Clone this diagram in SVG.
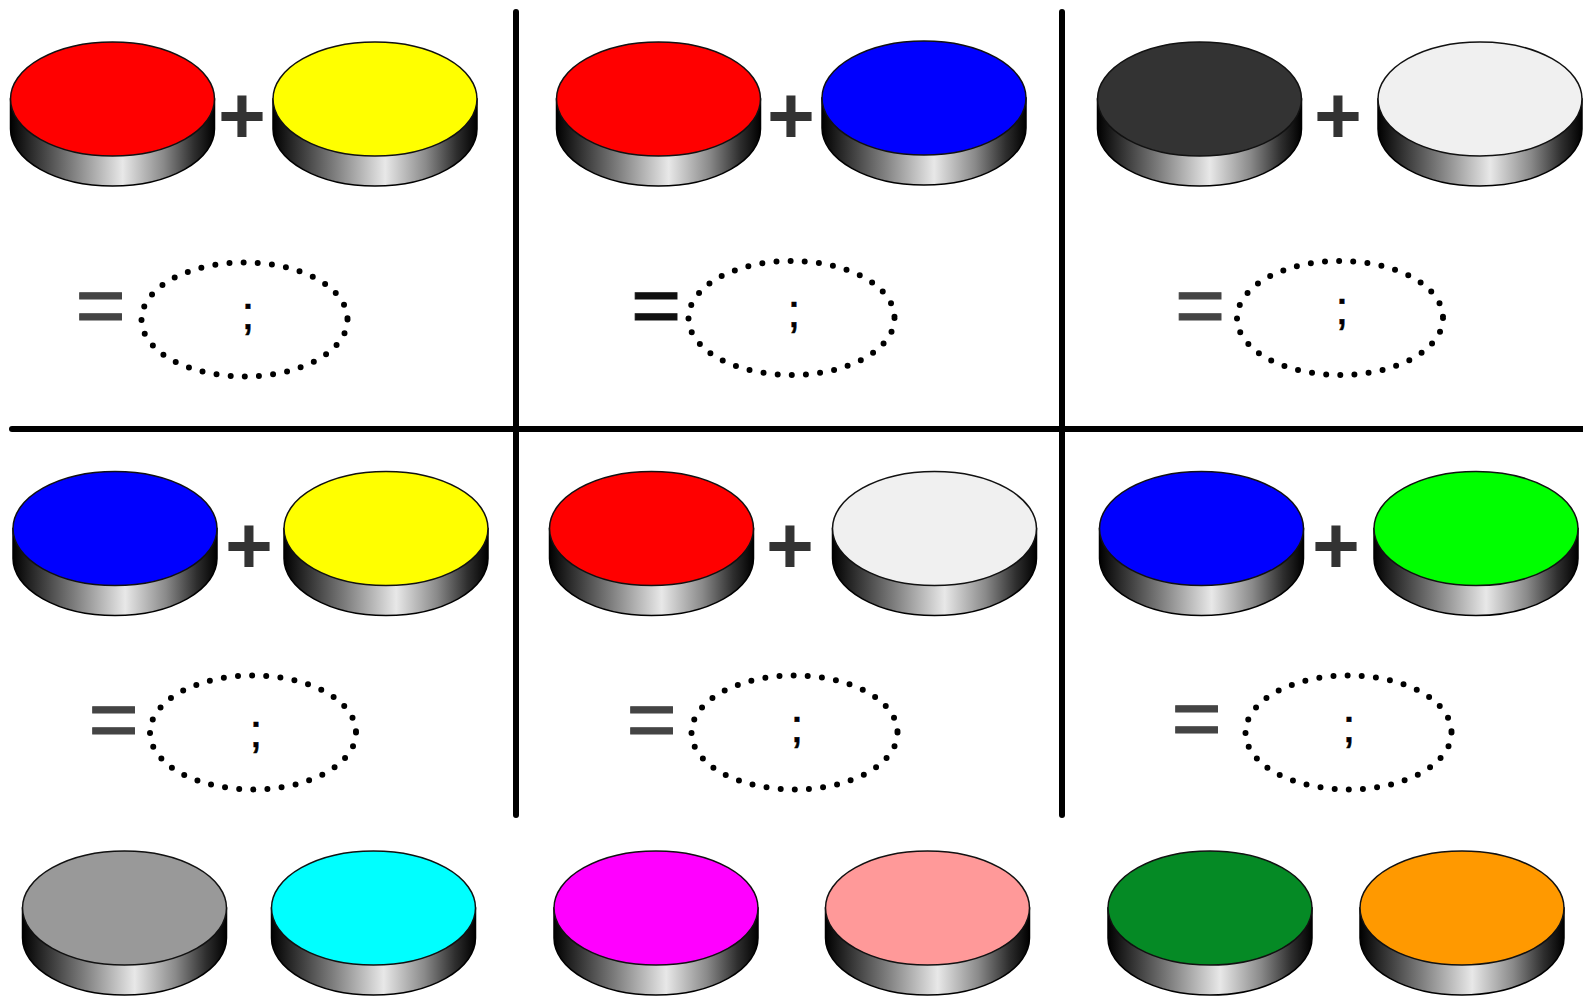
<svg xmlns="http://www.w3.org/2000/svg" xmlns:xlink="http://www.w3.org/1999/xlink" width="1583" height="997" viewBox="0 0 1583 997">
<defs>
<linearGradient id="sideGrad" x1="0" y1="0" x2="1" y2="0">
<stop offset="0" stop-color="#000"/>
<stop offset="0.1" stop-color="#2a2a2a"/>
<stop offset="0.3" stop-color="#7d7d7d"/>
<stop offset="0.55" stop-color="#e8e8e8"/>
<stop offset="0.75" stop-color="#8a8a8a"/>
<stop offset="0.9" stop-color="#2e2e2e"/>
<stop offset="1" stop-color="#000"/>
</linearGradient>
<path id="side" d="M-102,0 V30 A102,57 0 0 0 102,30 V0 Z" fill="url(#sideGrad)" stroke="#000" stroke-width="1.5"/>
</defs>
<style>
.top{stroke:#111;stroke-width:1.5}
.plus{font-family:"Liberation Sans",Arial,sans-serif;font-weight:bold;font-size:82px;fill:#333;text-anchor:middle}
.eq{font-family:"Liberation Sans",Arial,sans-serif;font-size:86px;fill:#444;stroke:#444;stroke-width:1;text-anchor:middle}
.semi{font-family:"Liberation Sans",Arial,sans-serif;font-size:46px;fill:#000;stroke:#000;stroke-width:0.6;text-anchor:middle}
.dots{fill:none;stroke:#000;stroke-width:6;stroke-linecap:round;stroke-dasharray:0 14.2}
.grid{stroke:#000;stroke-width:6;stroke-linecap:round;fill:none}
</style>
<rect width="1583" height="997" fill="#fff"/>
<g id="connectors">
<line class="grid" x1="516" y1="12" x2="516" y2="815"/>
<line class="grid" x1="1062" y1="12" x2="1062" y2="815"/>
<line class="grid" x1="12" y1="429" x2="1590" y2="429"/>
</g>
<!-- Panel 1 -->
<g id="p1-red" transform="translate(112.5,99)"><use xlink:href="#side"/><ellipse class="top" rx="102" ry="57" fill="#ff0000"/></g>
<g id="p1-yellow" transform="translate(375,99)"><use xlink:href="#side"/><ellipse class="top" rx="102" ry="57" fill="#ffff00"/></g>
<g id="p1-plus"><text class="plus" x="242" y="143">+</text></g>
<g id="p1-eq"><text class="eq" x="100.5" y="334">=</text></g>
<g id="p1-result"><ellipse class="dots" cx="244.5" cy="319.5" rx="103" ry="57"/><text class="semi" x="248" y="329">;</text></g>
<!-- Panel 2 -->
<g id="p2-red" transform="translate(658.5,99)"><use xlink:href="#side"/><ellipse class="top" rx="102" ry="57" fill="#ff0000"/></g>
<g id="p2-blue" transform="translate(924,98)"><use xlink:href="#side"/><ellipse class="top" rx="102" ry="57" fill="#0000ff"/></g>
<g id="p2-plus"><text class="plus" x="791" y="143">+</text></g>
<g id="p2-eq"><text class="eq" x="656" y="334" style="fill:#111;stroke:#111">=</text></g>
<g id="p2-result"><ellipse class="dots" cx="791.5" cy="318" rx="103" ry="57"/><text class="semi" x="794" y="327">;</text></g>
<!-- Panel 3 -->
<g id="p3-black" transform="translate(1199.5,99)"><use xlink:href="#side"/><ellipse class="top" rx="102" ry="57" fill="#333333"/></g>
<g id="p3-white" transform="translate(1480,99)"><use xlink:href="#side"/><ellipse class="top" rx="102" ry="57" fill="#f0f0f0"/></g>
<g id="p3-plus"><text class="plus" x="1338" y="143">+</text></g>
<g id="p3-eq"><text class="eq" x="1200" y="334">=</text></g>
<g id="p3-result"><ellipse class="dots" cx="1340" cy="318" rx="103" ry="57"/><text class="semi" x="1342" y="324">;</text></g>
<!-- Panel 4 -->
<g id="p4-blue" transform="translate(115,528.5)"><use xlink:href="#side"/><ellipse class="top" rx="102" ry="57" fill="#0000ff"/></g>
<g id="p4-yellow" transform="translate(386,528.5)"><use xlink:href="#side"/><ellipse class="top" rx="102" ry="57" fill="#ffff00"/></g>
<g id="p4-plus"><text class="plus" x="249" y="573">+</text></g>
<g id="p4-eq"><text class="eq" x="113.5" y="748">=</text></g>
<g id="p4-result"><ellipse class="dots" cx="253" cy="732.5" rx="103" ry="57"/><text class="semi" x="256" y="747">;</text></g>
<!-- Panel 5 -->
<g id="p5-red" transform="translate(651.5,528.5)"><use xlink:href="#side"/><ellipse class="top" rx="102" ry="57" fill="#ff0000"/></g>
<g id="p5-white" transform="translate(934.5,528.5)"><use xlink:href="#side"/><ellipse class="top" rx="102" ry="57" fill="#f0f0f0"/></g>
<g id="p5-plus"><text class="plus" x="790" y="573">+</text></g>
<g id="p5-eq"><text class="eq" x="651.5" y="748">=</text></g>
<g id="p5-result"><ellipse class="dots" cx="794.5" cy="732.5" rx="103" ry="57"/><text class="semi" x="797" y="742">;</text></g>
<!-- Panel 6 -->
<g id="p6-blue" transform="translate(1201.5,528.5)"><use xlink:href="#side"/><ellipse class="top" rx="102" ry="57" fill="#0000ff"/></g>
<g id="p6-green" transform="translate(1476,528.5)"><use xlink:href="#side"/><ellipse class="top" rx="102" ry="57" fill="#00ff00"/></g>
<g id="p6-plus"><text class="plus" x="1336" y="573">+</text></g>
<g id="p6-eq"><text class="eq" x="1196.5" y="747">=</text></g>
<g id="p6-result"><ellipse class="dots" cx="1348.5" cy="732.5" rx="103" ry="57"/><text class="semi" x="1349" y="742">;</text></g>
<!-- Palette row -->
<g id="pal-gray" transform="translate(124.5,908)"><use xlink:href="#side"/><ellipse class="top" rx="102" ry="57" fill="#999999"/></g>
<g id="pal-cyan" transform="translate(373.5,908)"><use xlink:href="#side"/><ellipse class="top" rx="102" ry="57" fill="#00ffff"/></g>
<g id="pal-magenta" transform="translate(656,908)"><use xlink:href="#side"/><ellipse class="top" rx="102" ry="57" fill="#ff00ff"/></g>
<g id="pal-pink" transform="translate(927.5,908)"><use xlink:href="#side"/><ellipse class="top" rx="102" ry="57" fill="#ff9999"/></g>
<g id="pal-darkgreen" transform="translate(1210,908)"><use xlink:href="#side"/><ellipse class="top" rx="102" ry="57" fill="#058a25"/></g>
<g id="pal-orange" transform="translate(1462,908)"><use xlink:href="#side"/><ellipse class="top" rx="102" ry="57" fill="#ff9900"/></g>
</svg>
